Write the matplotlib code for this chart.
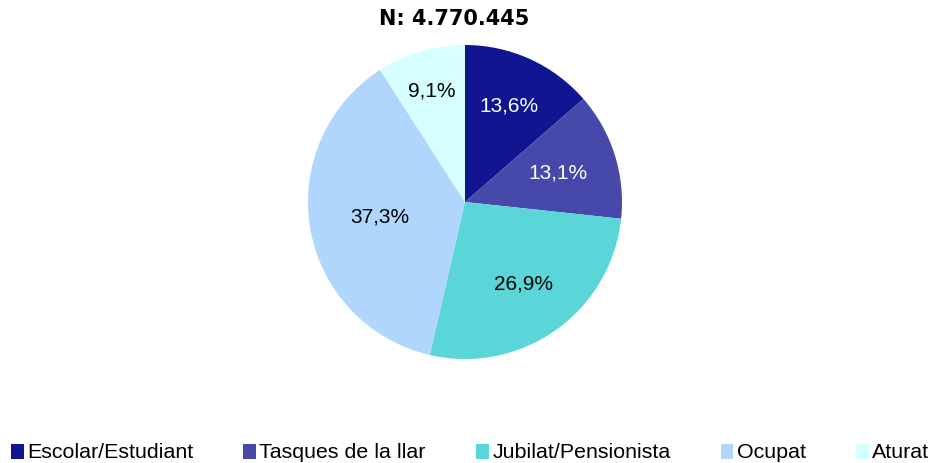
import matplotlib
matplotlib.use('Agg')
import numpy as np
import matplotlib.pyplot as plt

title = 'N: 4.770.445'
categories = ['Escolar/Estudiant', 'Tasques de la llar', 'Jubilat/Pensionista', 'Ocupat', 'Aturat']
values = [13.6, 13.1, 26.9, 37.3, 9.1]
colors = ['#111591', '#4649A9', '#5AD5D8', '#B0D6FE', '#D6FFFF']
text_colors = ['white', 'white', 'black', 'black', 'black']
label_dist = [0.67, 0.62, 0.64, 0.55, 0.74]

plt.rcParams['font.family'] = ['Liberation Sans', 'DejaVu Sans']

fig = plt.figure(figsize=(9.34, 4.63), dpi=100)
# pie axes: center ~ (465, 202) px, radius ~157 px
ax = fig.add_axes([(465 - 157) / 934, 1 - (202 + 157) / 463, 314 / 934, 314 / 463])
wedges, texts = ax.pie(values, colors=colors, startangle=90, counterclock=False,
                       labels=[f'{v:.1f}'.replace('.', ',') + '%' for v in values],
                       labeldistance=0.67, radius=1.0,
                       wedgeprops=dict(linewidth=0),
                       textprops=dict(fontsize=15, ha='center', va='center'))
for w, t, c, d in zip(wedges, texts, text_colors, label_dist):
    ang = np.deg2rad((w.theta1 + w.theta2) / 2)
    t.set_position((d * np.cos(ang), d * np.sin(ang)))
    t.set_color(c)
ax.set_xlim(-1, 1)
ax.set_ylim(-1, 1)
ax.set_aspect('equal')

fig.text(454 / 934, 1 - 19 / 463, title, ha='center', va='center',
         fontsize=15, fontweight='bold', family='DejaVu Sans')

leg = fig.legend(wedges, categories, loc='center', bbox_to_anchor=(470 / 934, 1 - 453 / 463),
                 ncol=5, frameon=False, fontsize=15.4, handlelength=0.6, handleheight=0.7,
                 handletextpad=0.15, columnspacing=2.35, borderaxespad=0, borderpad=0)

fig.savefig('out.png', dpi=100)
